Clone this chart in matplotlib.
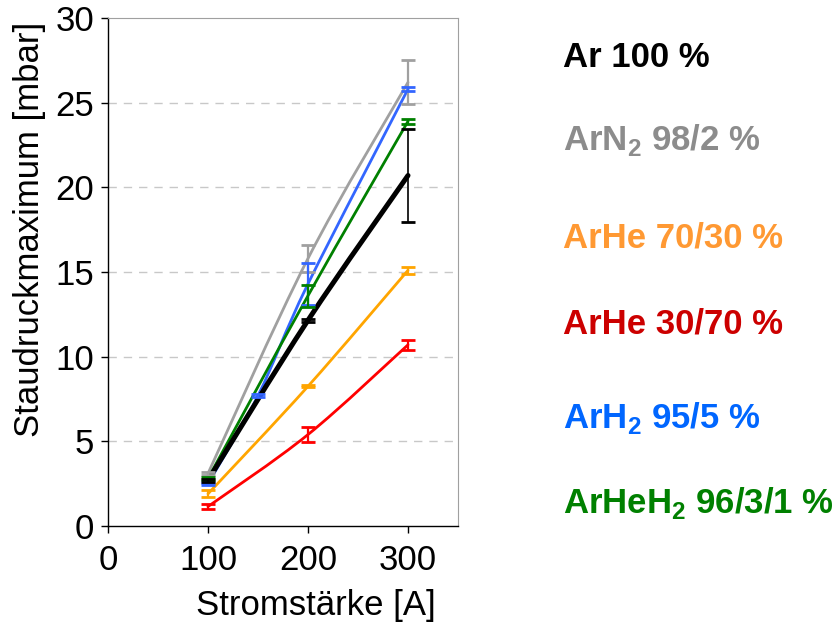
import numpy as np
import matplotlib
matplotlib.use("Agg")
import matplotlib.pyplot as plt
from matplotlib.path import Path
from matplotlib.patches import PathPatch

plt.rcParams.update({
    "font.family": ["Liberation Sans", "DejaVu Sans"],
    "mathtext.fontset": "custom",
    "mathtext.bf": "Liberation Sans:bold",
    "mathtext.rm": "Liberation Sans",
})

# data: current [A] -> stagnation pressure max [mbar]
ar_x = [100, 200, 300]
ar_y = [2.7, 12.15, 20.7]
ar_err = [0.1, 0.1, 2.75]

arn2_x = [100, 200, 300]
arn2_y = [3.1, 15.8, 26.2]
arn2_err = [0.1, 0.8, 1.3]

arhe70_x = [100, 200, 300]
arhe70_y = [1.9, 8.25, 15.1]
arhe70_err = [0.2, 0.05, 0.2]

arhe30_x = [100, 200, 300]
arhe30_y = [1.15, 5.4, 10.7]
arhe30_err = [0.15, 0.45, 0.3]

arh2_x = [100, 150, 200, 300]
arh2_y = [2.5, 7.7, 14.3, 25.8]
arh2_err = [0.05, 0.1, 1.25, 0.1]

arheh2_x = [100, 200, 300]
arheh2_y = [2.8, 13.6, 23.9]
arheh2_err = [0.1, 0.65, 0.15]

legend_labels = [
    r"Ar 100 %",
    r"ArN$_\mathbf{2}$ 98/2 %",
    r"ArHe 70/30 %",
    r"ArHe 30/70 %",
    r"ArH$_\mathbf{2}$ 95/5 %",
    r"ArHeH$_\mathbf{2}$ 96/3/1 %",
]
legend_colors = ["#000000", "#8c8c8c", "#ff9933", "#cc0000", "#0066ff", "#008000"]


def smooth_path(xs, ys):
    """Excel-style smoothed line (Catmull-Rom as cubic Bezier)."""
    pts = np.column_stack([xs, ys]).astype(float)
    n = len(pts)
    verts = [pts[0]]
    codes = [Path.MOVETO]
    for i in range(n - 1):
        p0 = pts[max(i - 1, 0)]
        p1 = pts[i]
        p2 = pts[i + 1]
        p3 = pts[min(i + 2, n - 1)]
        verts += [p1 + (p2 - p0) / 6, p2 - (p3 - p1) / 6, p2]
        codes += [Path.CURVE4] * 3
    return Path(verts, codes)


fig = plt.figure(figsize=(8.36, 6.23), dpi=100)
ax = fig.add_axes([108 / 836, 1 - 526 / 623, 350 / 836, 508 / 623])

series = [
    (arn2_x, arn2_y, arn2_err, "#a0a0a0", 2.0, 1.6),
    (arh2_x, arh2_y, arh2_err, "#3366ff", 2.0, 1.6),
    (arheh2_x, arheh2_y, arheh2_err, "#008000", 2.0, 1.6),
    (arhe70_x, arhe70_y, arhe70_err, "#ffa500", 2.0, 1.6),
    (arhe30_x, arhe30_y, arhe30_err, "#ff0000", 2.0, 1.6),
    (ar_x, ar_y, ar_err, "#000000", 3.6, 1.2),
]

for xs, ys, err, color, lw, elw in series:
    ax.add_patch(PathPatch(smooth_path(xs, ys), fill=False, edgecolor=color,
                           linewidth=lw, capstyle="round", zorder=3))
    ax.errorbar(xs, ys, yerr=err, fmt="none", ecolor=color, elinewidth=elw,
                capsize=5, capthick=2.0, zorder=4)

ax.set_xlim(0, 350)
ax.set_ylim(0, 30)
ax.set_xticks([0, 100, 200, 300])
ax.set_yticks([0, 5, 10, 15, 20, 25, 30])
ax.tick_params(axis="both", labelsize=25, direction="out", length=5, width=1)
ax.tick_params(axis="x", pad=8)
ax.tick_params(axis="y", pad=5)

for y in [5, 10, 15, 20, 25]:
    ax.axhline(y, color="#c8c8c8", linewidth=1, linestyle=(0, (6, 5)), zorder=1)

ax.spines["top"].set_color("#a0a0a0")
ax.spines["right"].set_color("#a0a0a0")
ax.spines["left"].set_linewidth(1)
ax.spines["bottom"].set_linewidth(1)

# axis titles placed like the original (not centred on the axes)
fig.text(316 / 836, 1 - 605 / 623, "Stromstärke [A]", fontsize=25,
         ha="center", va="center")
fig.text(30 / 836, 1 - 229 / 623, "Staudruckmaximum [mbar]", fontsize=25,
         rotation=90, ha="center", va="center")

# legend as coloured text
baselines = [67, 150, 247, 333, 428, 513]
for lab, col, yb in zip(legend_labels, legend_colors, baselines):
    fig.text(563 / 836, 1 - yb / 623, lab, color=col, fontsize=25,
             fontweight="bold", ha="left", va="baseline")

fig.savefig("out.png", dpi=100)
